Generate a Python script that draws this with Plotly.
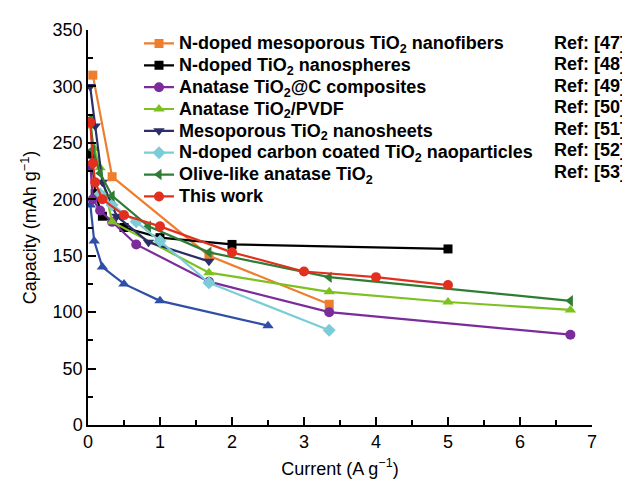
import plotly.graph_objects as go

# ---- data ----
names = [
    "N-doped mesoporous TiO<sub>2</sub> nanofibers",
    "N-doped TiO<sub>2</sub> nanospheres",
    "Anatase TiO<sub>2</sub>@C composites",
    "Anatase TiO<sub>2</sub>/PVDF",
    "Mesoporous TiO<sub>2</sub> nanosheets",
    "N-doped carbon coated TiO<sub>2</sub> naoparticles",
    "Olive-like anatase TiO<sub>2</sub>",
    "This work",
]
refs = ["Ref: [47]", "Ref: [48]", "Ref: [49]", "Ref: [50]", "Ref: [51]", "Ref: [52]", "Ref: [53]", ""]

x_orange = [0.067, 0.335, 1.68, 3.35]
y_orange = [310, 220, 150, 107]

x_black = [0.05, 0.1, 0.2, 0.5, 1.0, 2.0, 5.0]
y_black = [240, 205, 185, 175, 166, 160, 156]

x_purple = [0.033, 0.067, 0.168, 0.335, 0.67, 1.68, 3.35, 6.7]
y_purple = [230, 200, 190, 180, 160, 127, 100, 80]

x_lgreen = [0.033, 0.084, 0.168, 0.335, 1.68, 3.35, 5.0, 6.7]
y_lgreen = [265, 245, 228, 180, 135, 118, 109, 102]

x_navy = [0.03, 0.1, 0.2, 0.4, 0.84, 1.68]
y_navy = [300, 265, 215, 185, 162, 145]

x_cyan = [0.168, 0.335, 0.67, 1.0, 1.68, 3.35]
y_cyan = [205, 195, 180, 163, 126, 84]

x_dgreen = [0.033, 0.067, 0.168, 0.335, 0.84, 1.68, 3.35, 6.7]
y_dgreen = [271, 244, 223, 203, 176, 153, 131, 110]

x_red = [0.033, 0.067, 0.1, 0.2, 0.5, 1.0, 2.0, 3.0, 4.0, 5.0]
y_red = [268, 232, 215, 200, 186, 176, 153, 136, 131, 124]

x_blue = [0.033, 0.086, 0.2, 0.5, 1.0, 2.5]
y_blue = [195, 163, 140, 125, 110, 88]

colors = ["#EE7D2E", "#000000", "#7B2C9B", "#7DC11F", "#2C2E68", "#7CCCD8", "#2F7D34", "#E2301F"]
symbols = ["square", "square", "circle", "triangle-up", "triangle-down", "diamond", "triangle-left", "circle"]
xs = [x_orange, x_black, x_purple, x_lgreen, x_navy, x_cyan, x_dgreen, x_red]
ys = [y_orange, y_black, y_purple, y_lgreen, y_navy, y_cyan, y_dgreen, y_red]

FONT = "Liberation Sans, Arial, sans-serif"

fig = go.Figure()

fig.add_trace(go.Scatter(
    x=x_blue, y=y_blue, mode="lines+markers", showlegend=False,
    line=dict(color="#2F4FA6", width=2.2),
    marker=dict(symbol="triangle-up", size=10, color="#2F4FA6"),
))

for n, c, s, xx, yy in zip(names, colors, symbols, xs, ys):
    fig.add_trace(go.Scatter(
        x=xx, y=yy, mode="lines+markers",
        name='<span style="font-size:18px"><b>' + n + "</b></span>",
        line=dict(color=c, width=2.2),
        marker=dict(symbol=s, size=10 if s != "square" else 9, color=c),
    ))

# figure geometry (page has an 8px body margin)
W, H = 622, 480
L, R, T, B = 80, 38, 17, 62
pw = W - L - R
ph = H - T - B

ITEM = 21.8
for i, r in enumerate(refs):
    if not r:
        continue
    ypx = 30 + i * ITEM
    fig.add_annotation(
        text="<b>%s</b>" % r, xref="paper", yref="paper",
        x=(620 - L) / pw, y=(H - B - ypx) / ph,
        xanchor="right", yanchor="middle", showarrow=False,
        font=dict(family=FONT, size=18, color="black"),
    )

axis_common = dict(
    showline=True, linecolor="black", linewidth=1.5,
    ticks="inside", ticklen=8, tickwidth=1.8, tickcolor="black",
    showgrid=False, zeroline=False, mirror=False,
    tickfont=dict(family=FONT, size=18, color="black"),
)

fig.update_xaxes(
    range=[0, 7], dtick=1, tick0=0,
    minor=dict(dtick=0.5, ticks="inside", ticklen=5, tickwidth=1.5, tickcolor="black"),
    title=dict(text="Current (A g<sup>−1</sup>)", font=dict(family=FONT, size=18, color="black"), standoff=11),
    **axis_common,
)
fig.update_yaxes(
    range=[0, 350], dtick=50, tick0=0,
    minor=dict(dtick=25, ticks="inside", ticklen=5, tickwidth=1.5, tickcolor="black"),
    title=dict(text="Capacity (mAh g<sup>−1</sup>)", font=dict(family=FONT, size=18, color="black"), standoff=11),
    **axis_common,
)

fig.update_layout(
    width=W, height=H,
    margin=dict(l=L, r=R, t=T, b=B),
    paper_bgcolor="white", plot_bgcolor="white",
    showlegend=True,
    legend=dict(
        x=(131 - L) / pw, y=(H - B - 14.5) / ph, xanchor="left", yanchor="top",
        bgcolor="rgba(0,0,0,0)", borderwidth=0,
        font=dict(family=FONT, size=14.5, color="black"),
        tracegroupgap=0, itemwidth=30,
    ),
)

fig.write_html("out.html")
